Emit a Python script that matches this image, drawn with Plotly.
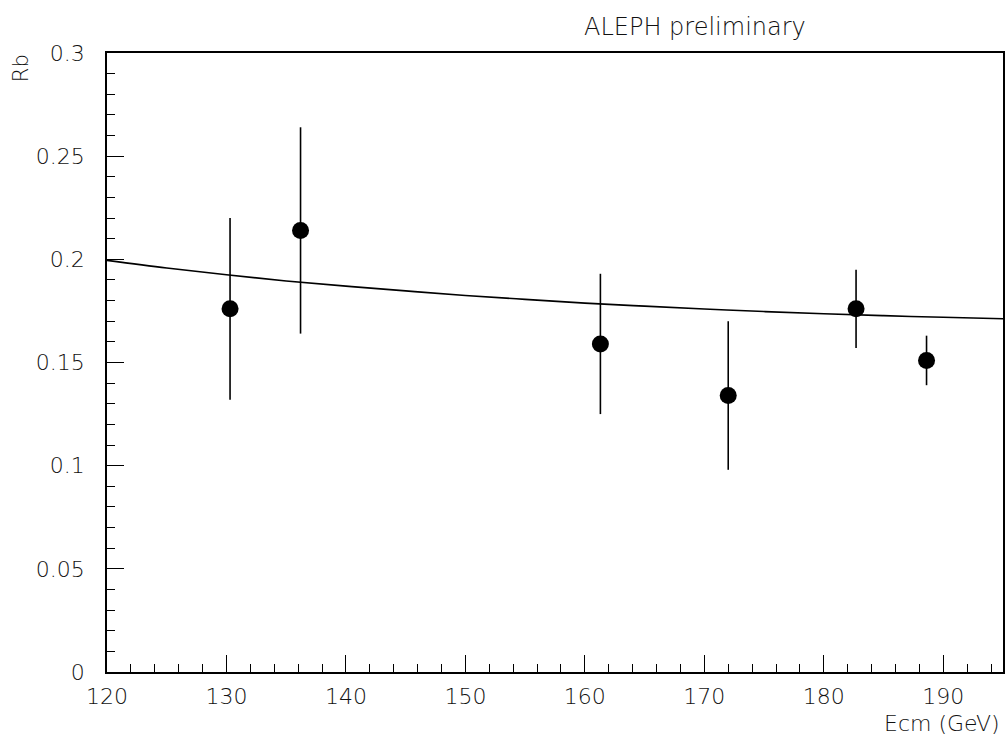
import plotly.graph_objects as go

# Data points
ecm = [130.3, 136.2, 161.3, 172.0, 182.7, 188.6]
rb = [0.176, 0.214, 0.159, 0.134, 0.176, 0.151]
rb_err = [0.044, 0.050, 0.034, 0.036, 0.019, 0.012]

# Standard-model curve
curve_x = [120, 125, 130, 135, 140, 145, 150, 155, 160, 165, 170, 175, 180, 185, 190, 195]
curve_y = [0.1995, 0.1958, 0.1925, 0.1895, 0.1870, 0.1847, 0.1825, 0.1806, 0.1788, 0.1773,
           0.1759, 0.1747, 0.1736, 0.1727, 0.1719, 0.1712]

x_ticks = [120, 130, 140, 150, 160, 170, 180, 190]
y_ticks = [0, 0.05, 0.1, 0.15, 0.2, 0.25, 0.3]
y_labels = ["0", "0.05", "0.1", "0.15", "0.2", "0.25", "0.3"]

FONT = "DejaVu Sans, sans-serif"
TXT = "#111"

W, H = 1006, 736
L, T, R, B = 107, 53, 1, 64
PW, PH = W - L - R, H - T - B


def px_x(sx):
    return (sx - L) / PW


def px_y(sy):
    return 1 - (sy - T) / PH


fig = go.Figure()
fig.add_trace(go.Scatter(
    x=curve_x, y=curve_y, mode="lines", line_shape="spline",
    line=dict(color="black", width=1.6),
    showlegend=False, hoverinfo="skip"))
fig.add_trace(go.Scatter(
    x=ecm, y=rb, mode="markers",
    marker=dict(color="black", size=17),
    error_y=dict(type="data", array=rb_err, visible=True, width=0, thickness=1.6, color="black"),
    showlegend=False))

axis_common = dict(
    showline=True, linecolor="black", linewidth=1.5, mirror=True,
    showgrid=False, zeroline=False,
    ticks="inside", tickcolor="black", tickwidth=1.2, ticklen=17,
    tickfont=dict(family=FONT, size=22, color=TXT, weight=200),
)

fig.update_xaxes(
    range=[120, 195], tickvals=x_ticks, ticktext=[str(v) for v in x_ticks],
    minor=dict(ticks="inside", ticklen=8, tickwidth=1.2, tickcolor="black", dtick=2, tick0=120),
    ticklabelstandoff=4,
    **axis_common)
fig.update_yaxes(
    range=[0, 0.3], tickvals=y_ticks, ticktext=y_labels,
    minor=dict(ticks="inside", ticklen=8, tickwidth=1.2, tickcolor="black", dtick=0.01, tick0=0),
    ticklabelstandoff=16,
    **axis_common)

fig.add_annotation(text="ALEPH preliminary", xref="paper", yref="paper",
                   x=px_x(696), y=px_y(27), xanchor="center", yanchor="middle",
                   showarrow=False, font=dict(family=FONT, size=24, color=TXT, weight=200))
fig.add_annotation(text="Ecm (GeV)", xref="paper", yref="paper",
                   x=px_x(1004), y=px_y(723), xanchor="right", yanchor="middle",
                   showarrow=False, font=dict(family=FONT, size=22, color=TXT, weight=200))
fig.add_annotation(text="Rb", xref="paper", yref="paper", textangle=-90,
                   x=px_x(21), y=px_y(68), xanchor="center", yanchor="middle",
                   showarrow=False, font=dict(family=FONT, size=21, color=TXT, weight=200))

fig.update_layout(
    width=W, height=H,
    margin=dict(l=L, r=R, t=T, b=B),
    paper_bgcolor="white", plot_bgcolor="white",
)

fig.write_html("out.html", config={"displayModeBar": False},
               post_script="document.body.style.margin='0';document.body.style.overflow='hidden';")
